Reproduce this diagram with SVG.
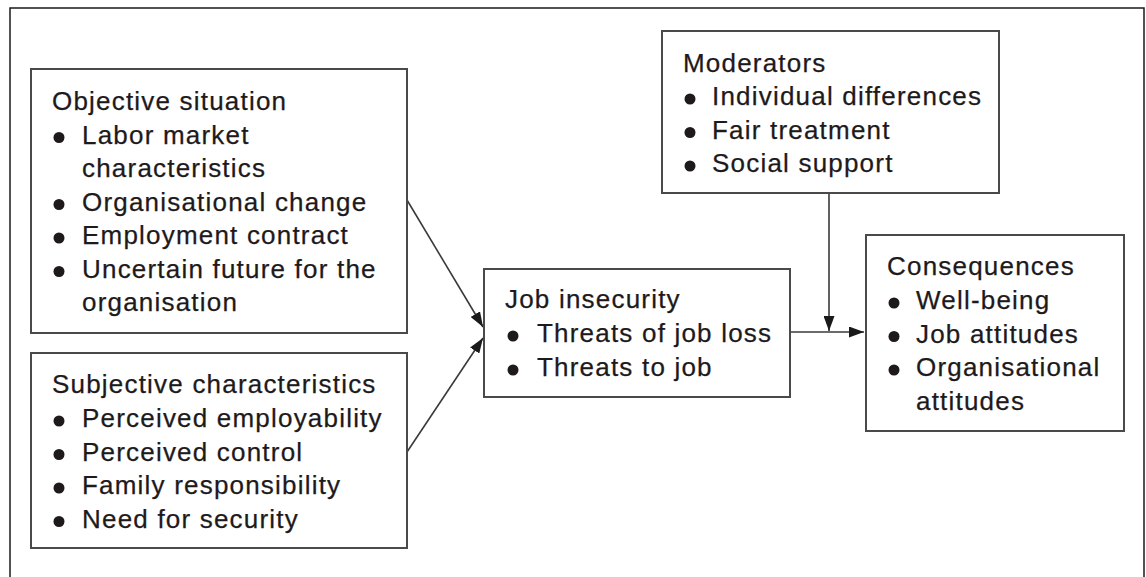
<svg xmlns="http://www.w3.org/2000/svg" width="1146" height="577" viewBox="0 0 1146 577">
  <defs>
    <style>
      .box { fill: #ffffff; stroke: #4a4a4a; stroke-width: 2; }
      .frame { fill: none; stroke: #1a1a1a; stroke-width: 1.5; }
      .lbl { font-family: "Liberation Sans", Arial, sans-serif; font-size: 26px; letter-spacing: 1.2px; fill: #1e1a1b; stroke: #1e1a1b; stroke-width: 0.25; }
      .dot { fill: #1e1a1b; }
      .edge { fill: none; stroke: #3a3a3a; stroke-width: 1.6; }
    </style>
    <marker id="arrow" viewBox="0 0 15 11" refX="15" refY="5.5" markerWidth="15" markerHeight="11" markerUnits="userSpaceOnUse" orient="auto">
      <path d="M0,0 L15,5.5 L0,11 Z" fill="#1a1a1a"/>
    </marker>
  </defs>

  <rect x="0" y="0" width="1146" height="577" fill="#ffffff"/>
  <path class="frame" d="M10,580 L10,8 L1144,8 L1144,580"/>

  <!-- connectors -->
  <g id="connectors">
    <line class="edge" x1="407" y1="200" x2="483" y2="327" marker-end="url(#arrow)"/>
    <line class="edge" x1="407" y1="452" x2="483" y2="338" marker-end="url(#arrow)"/>
    <line class="edge" x1="790" y1="332" x2="864" y2="332" marker-end="url(#arrow)"/>
    <line class="edge" x1="829" y1="193" x2="829" y2="331" marker-end="url(#arrow)"/>
  </g>

  <!-- objective situation -->
  <g id="objective">
    <rect class="box" x="31" y="69" width="376" height="264"/>
    <text class="lbl" x="52" y="110">Objective situation</text>
    <circle class="dot" cx="59" cy="137.5" r="5.5"/>
    <text class="lbl" x="82" y="143.5">Labor market</text>
    <text class="lbl" x="82" y="177">characteristics</text>
    <circle class="dot" cx="59" cy="204.5" r="5.5"/>
    <text class="lbl" x="82" y="210.5">Organisational change</text>
    <circle class="dot" cx="59" cy="238" r="5.5"/>
    <text class="lbl" x="82" y="244">Employment contract</text>
    <circle class="dot" cx="59" cy="271.5" r="5.5"/>
    <text class="lbl" x="82" y="277.5">Uncertain future for the</text>
    <text class="lbl" x="82" y="311">organisation</text>
  </g>

  <!-- subjective characteristics -->
  <g id="subjective">
    <rect class="box" x="31" y="353" width="376" height="195"/>
    <text class="lbl" x="52" y="393">Subjective characteristics</text>
    <circle class="dot" cx="59" cy="421" r="5.5"/>
    <text class="lbl" x="82" y="427">Perceived employability</text>
    <circle class="dot" cx="59" cy="454.5" r="5.5"/>
    <text class="lbl" x="82" y="460.5">Perceived control</text>
    <circle class="dot" cx="59" cy="488" r="5.5"/>
    <text class="lbl" x="82" y="494">Family responsibility</text>
    <circle class="dot" cx="59" cy="521.5" r="5.5"/>
    <text class="lbl" x="82" y="527.5">Need for security</text>
  </g>

  <!-- job insecurity -->
  <g id="job-insecurity">
    <rect class="box" x="484" y="269" width="306" height="128"/>
    <text class="lbl" x="505" y="308">Job insecurity</text>
    <circle class="dot" cx="513" cy="336" r="5.5"/>
    <text class="lbl" x="537" y="342">Threats of job loss</text>
    <circle class="dot" cx="513" cy="370" r="5.5"/>
    <text class="lbl" x="537" y="376">Threats to job</text>
  </g>

  <!-- moderators -->
  <g id="moderators">
    <rect class="box" x="662" y="31" width="337" height="162"/>
    <text class="lbl" x="683" y="72">Moderators</text>
    <circle class="dot" cx="690" cy="99" r="5.5"/>
    <text class="lbl" x="712" y="105">Individual differences</text>
    <circle class="dot" cx="690" cy="132.5" r="5.5"/>
    <text class="lbl" x="712" y="138.5">Fair treatment</text>
    <circle class="dot" cx="690" cy="166" r="5.5"/>
    <text class="lbl" x="712" y="172">Social support</text>
  </g>

  <!-- consequences -->
  <g id="consequences">
    <rect class="box" x="866" y="235" width="258" height="196"/>
    <text class="lbl" x="887" y="275">Consequences</text>
    <circle class="dot" cx="894" cy="303" r="5.5"/>
    <text class="lbl" x="916" y="309">Well-being</text>
    <circle class="dot" cx="894" cy="336.5" r="5.5"/>
    <text class="lbl" x="916" y="342.5">Job attitudes</text>
    <circle class="dot" cx="894" cy="370" r="5.5"/>
    <text class="lbl" x="916" y="376">Organisational</text>
    <text class="lbl" x="916" y="409.5">attitudes</text>
  </g>
</svg>
